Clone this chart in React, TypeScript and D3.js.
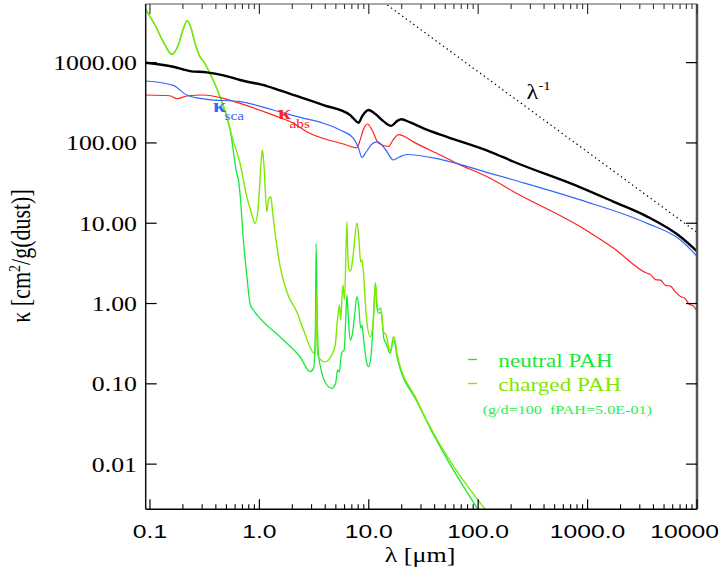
import React from 'react';
import * as d3 from 'd3';

type Pt = [number, number];

// axis ticks
const xMajorTicks = [0.1, 1, 10, 100, 1000, 10000];
const xMajorLabels = ['0.1', '1.0', '10.0', '100.0', '1000.0', '10000'];
const yMajorTicks = [0.01, 0.1, 1, 10, 100, 1000];
const yMajorLabels = ['0.01', '0.10', '1.00', '10.00', '100.00', '1000.00'];

// [lambda (um), kappa (cm2/g dust)]
const kappaExt: Pt[] = [
  [0.0914, 998], [0.163, 889], [0.232, 785], [0.33, 757], [0.469, 695], [0.666, 607],
  [1.17, 511], [1.91, 408], [3.85, 296], [6.76, 222], [7.24, 202], [8.05, 178],
  [8.71, 216], [9.94, 257], [11.5, 229], [13.5, 188], [16.0, 163], [18.2, 188],
  [19.8, 197], [23.9, 180], [31.6, 152], [51.8, 119], [129, 77.6], [211, 58.3],
  [859, 28.0], [1733, 18.5], [3500, 12.1], [7060, 6.79], [10100, 4.42],
];

const kappaSca: Pt[] = [
  [0.0914, 590], [0.163, 521], [0.217, 395], [0.33, 349], [0.666, 326], [1.34, 257],
  [2.36, 208], [3.85, 176], [5.47, 145], [7.24, 114], [8.0, 88.9], [8.65, 66.2],
  [9.47, 77.1], [10.7, 96.9], [12.0, 103], [14.1, 84.0], [16.8, 61.3], [19.0, 66.7],
  [22.3, 71.8], [45.0, 62.5], [129, 41.8], [211, 34.5], [859, 19.5], [3500, 9.97],
  [7060, 6.18], [10100, 3.83],
];

const kappaAbs: Pt[] = [
  [0.0914, 395], [0.152, 387], [0.176, 355], [0.217, 384], [0.307, 395], [0.469, 359],
  [0.666, 311], [1.34, 222], [2.05, 176], [2.71, 138], [5.87, 96.9], [7.78, 87.1],
  [8.34, 109], [8.89, 145], [9.73, 172], [10.7, 145], [12.3, 98.9], [15.1, 90.2],
  [16.7, 109], [18.7, 127], [20.7, 122], [25.6, 103], [45.0, 70.7], [64.0, 55.7],
  [129, 36.3], [211, 24.7], [859, 9.04], [1733, 4.87], [3500, 2.38], [3750, 2.3],
  [4170, 1.99], [4640, 1.96], [5150, 1.68], [5720, 1.65], [6360, 1.39], [7060, 1.22],
  [7700, 1.17], [8500, 0.98], [9200, 0.94], [10100, 0.79],
];

// PAH opacities: common UV part, then neutral / charged branches
const pahUV: Pt[] = [
  [0.0914, 4610], [0.111, 2940], [0.137, 1660], [0.158, 1270], [0.18, 1610], [0.2, 2550],
  [0.219, 3330], [0.237, 2700], [0.258, 1750], [0.287, 1180], [0.312, 1020], [0.341, 809],
  [0.385, 573], [0.437, 376], [0.503, 212],
];

const pahNeutralIR: Pt[] = [
  [0.551, 125], [0.593, 61.2], [0.621, 41.8], [0.645, 34.5], [0.673, 19.5], [0.714, 6.18],
  [0.767, 2.26], [0.822, 1.0], [0.881, 0.83], [0.973, 0.698], [1.66, 0.351], [2.36, 0.216],
  [2.91, 0.142], [3.13, 0.157], [3.25, 0.468], [3.3, 5.62], [3.36, 1.11], [3.44, 0.264],
  [3.67, 0.149], [4.08, 0.0995], [4.59, 0.0879], [4.98, 0.102], [5.19, 0.149], [5.4, 0.14],
  [5.53, 0.198], [5.71, 0.249], [5.95, 0.264], [6.15, 0.623], [6.31, 1.28], [6.48, 0.719],
  [6.76, 0.351], [7.05, 0.405], [7.43, 0.719], [7.78, 1.22], [8.08, 0.958], [8.43, 0.495],
  [8.65, 0.54], [8.98, 0.351], [9.47, 0.198], [9.94, 0.163], [10.5, 0.228], [11.0, 0.623],
  [11.5, 1.79], [11.8, 0.958], [12.3, 0.755], [13.0, 0.784], [13.7, 0.372], [14.4, 0.319],
  [15.7, 0.24], [16.8, 0.351], [17.4, 0.313], [18.1, 0.218], [27.5, 0.0602], [109, 0.00226],
];

const pahChargedIR: Pt[] = [
  [0.574, 109], [0.666, 55.7], [0.767, 21.4], [0.84, 13.8], [0.913, 9.98], [0.98, 16.9],
  [1.04, 61.2], [1.065, 81.6], [1.1, 53.1], [1.17, 13.9], [1.21, 19.5], [1.27, 21.4],
  [1.33, 12.7], [1.42, 6.18], [1.55, 2.87], [1.83, 1.28], [2.2, 0.784], [2.53, 0.468],
  [3.12, 0.242], [3.27, 0.235], [3.34, 1.47], [3.42, 0.222], [3.99, 0.188], [4.53, 0.222],
  [4.93, 0.304], [5.19, 0.659], [5.4, 0.958], [5.53, 0.623], [5.8, 1.7], [6.0, 1.11],
  [6.31, 10.4], [6.41, 4.64], [6.62, 2.61], [6.83, 2.54], [7.2, 4.02], [7.78, 10.1],
  [8.08, 7.13], [8.43, 3.29], [8.65, 3.48], [8.98, 2.26], [9.47, 0.719], [10.3, 0.386],
  [11.0, 0.623], [11.5, 1.82], [11.8, 1.11], [12.3, 0.83], [12.9, 0.879], [13.6, 0.446],
  [14.4, 0.405], [15.7, 0.251], [16.8, 0.386], [17.4, 0.351], [18.1, 0.24], [27.5, 0.0628],
  [129, 0.00226],
];

// lambda^-1 reference line
const lambdaRef: Pt[] = [[10, 7700], [10000, 7.7]];

const W = 724;
const H = 572;
const plot = { left: 145.7, right: 697, top: 4, bottom: 509.3 };

const serif = '"Liberation Serif", "Times New Roman", serif';
const sans = '"Liberation Sans", Arial, sans-serif';
const SX = 1.22; // the original is stretched horizontally

const colors = {
  ext: '#000000',
  sca: '#3366ff',
  abs: '#ff2020',
  neutral: '#17e83a',
  charged: '#80e800',
  note: '#2aee50',
};

function SText({ x, y, size, family = serif, fill = '#000', anchor = 'start', sx = SX, weight = 'normal', children }: any) {
  return (
    <text
      transform={`translate(${x},${y}) scale(${sx},1)`}
      fontSize={size}
      fontFamily={family}
      fill={fill}
      textAnchor={anchor}
      fontWeight={weight}
      style={{ whiteSpace: 'pre' }}
    >
      {children}
    </text>
  );
}

export default function App() {
  const x = d3.scaleLog().domain([0.0914, 10000]).range([plot.left, plot.right]);
  const y = d3.scaleLog().domain([0.00274, 5370]).range([plot.bottom, plot.top]);
  const line = d3.line<Pt>().x((d) => x(d[0])).y((d) => y(d[1])).curve(d3.curveMonotoneX);
  const straight = d3.line<Pt>().x((d) => x(d[0])).y((d) => y(d[1]));

  const [x0, x1] = x.domain();
  const xMinor: number[] = [];
  for (let e = -2; e <= 3; e++) {
    for (let k = 2; k <= 9; k++) {
      const v = k * Math.pow(10, e);
      if (v > x0 && v < x1) xMinor.push(v);
    }
  }

  const pahNeutral = [...pahUV, ...pahNeutralIR];
  const pahCharged = [...pahUV, ...pahChargedIR];

  return (
    <div style={{ position: 'absolute', left: 0, top: 0 }}>
      <svg width={W} height={H} viewBox={`0 0 ${W} ${H}`} style={{ display: 'block', background: '#fff' }}>
        <defs>
          <clipPath id="plotclip">
            <rect x={plot.left} y={plot.top} width={plot.right - plot.left} height={plot.bottom - plot.top} />
          </clipPath>
        </defs>

        {/* curves */}
        <g clipPath="url(#plotclip)" fill="none" strokeLinejoin="round">
          <path d={straight(lambdaRef) || ''} stroke="#000" strokeWidth={1.2} strokeDasharray="1.4,3.2" />
          <path d={line(pahNeutral) || ''} stroke={colors.neutral} strokeWidth={1.3} />
          <path d={line(pahCharged) || ''} stroke={colors.charged} strokeWidth={1.4} />
          <path d={line(kappaAbs) || ''} stroke={colors.abs} strokeWidth={1.2} />
          <path d={line(kappaSca) || ''} stroke={colors.sca} strokeWidth={1.2} />
          <path d={line(kappaExt) || ''} stroke={colors.ext} strokeWidth={2.4} />
        </g>

        {/* frame */}
        <line x1={plot.left} x2={plot.right} y1={plot.bottom} y2={plot.bottom} stroke="#000" strokeWidth={1.5} />
        <line x1={plot.left} x2={plot.right} y1={plot.top} y2={plot.top} stroke="#555" strokeWidth={1.2} />
        <line x1={plot.left} x2={plot.left} y1={plot.top} y2={plot.bottom} stroke="#111" strokeWidth={1.5} />
        <line x1={plot.right} x2={plot.right} y1={plot.top} y2={plot.bottom} stroke="#555" strokeWidth={2.5} />

        {/* x ticks */}
        {xMajorTicks.map((t) => (
          <g key={`xM-${t}`}>
            <line x1={x(t)} x2={x(t)} y1={plot.bottom} y2={plot.bottom - 10} stroke="#000" strokeWidth={1.2} />
            <line x1={x(t)} x2={x(t)} y1={plot.top} y2={plot.top + 10} stroke="#333" strokeWidth={1.2} />
          </g>
        ))}
        {xMinor.map((t) => (
          <g key={`xm-${t}`}>
            <line x1={x(t)} x2={x(t)} y1={plot.bottom} y2={plot.bottom - 5} stroke="#000" strokeWidth={1.1} />
            <line x1={x(t)} x2={x(t)} y1={plot.top} y2={plot.top + 5} stroke="#333" strokeWidth={1.1} />
          </g>
        ))}
        {xMajorTicks.map((t, i) =>
          i === xMajorTicks.length - 1 ? (
            <SText key={`xl-${t}`} x={719} y={537.5} size={19} family={sans} anchor="end" sx={1.3}>
              {xMajorLabels[i]}
            </SText>
          ) : (
            <SText key={`xl-${t}`} x={x(t)} y={537.5} size={19} family={sans} anchor="middle" sx={1.3}>
              {xMajorLabels[i]}
            </SText>
          )
        )}

        {/* y ticks */}
        {yMajorTicks.map((t, i) => (
          <g key={`y-${t}`}>
            <line x1={plot.left} x2={plot.left + 11} y1={y(t)} y2={y(t)} stroke="#000" strokeWidth={1.2} />
            <line x1={plot.right} x2={plot.right - 11} y1={y(t)} y2={y(t)} stroke="#000" strokeWidth={1.2} />
            <SText x={137} y={y(t) + 7.5} size={21.5} anchor="end" sx={1.2}>
              {yMajorLabels[i]}
            </SText>
          </g>
        ))}

        {/* axis titles */}
        <SText x={420} y={561.5} size={20} anchor="middle" sx={1.3}>
          λ [μm]
        </SText>
        <text
          transform="translate(30,256) rotate(-90) scale(1,1.2)"
          fontSize={22}
          fontFamily={serif}
          textAnchor="middle"
          fill="#000"
        >
          κ [cm<tspan dy={-8} fontSize={14}>2</tspan>
          <tspan dy={8}>/g(dust)]</tspan>
        </text>

        {/* curve labels */}
        <SText x={213} y={111.5} size={19} fill={colors.sca} weight="bold">κ</SText>
        <SText x={224.5} y={120} size={12.5} fill={colors.sca}>sca</SText>
        <SText x={278} y={119} size={19} fill={colors.abs} weight="bold">κ</SText>
        <SText x={289.5} y={128} size={12.5} fill={colors.abs}>abs</SText>
        <SText x={526.5} y={99} size={20}>λ</SText>
        <SText x={538.5} y={90} size={12}>-1</SText>

        {/* legend */}
        <line x1={468} x2={477} y1={359.5} y2={359.5} stroke={colors.neutral} strokeWidth={1.3} />
        <SText x={498.3} y={366.7} size={19} fill={colors.neutral}>neutral PAH</SText>
        <line x1={468} x2={477} y1={383.5} y2={383.5} stroke={colors.charged} strokeWidth={1.3} />
        <SText x={498.3} y={390.7} size={19} fill={colors.charged}>charged PAH</SText>
        <SText x={482.7} y={414} size={13.2} fill={colors.note}>(g/d=100  fPAH=5.0E-01)</SText>
      </svg>
    </div>
  );
}
